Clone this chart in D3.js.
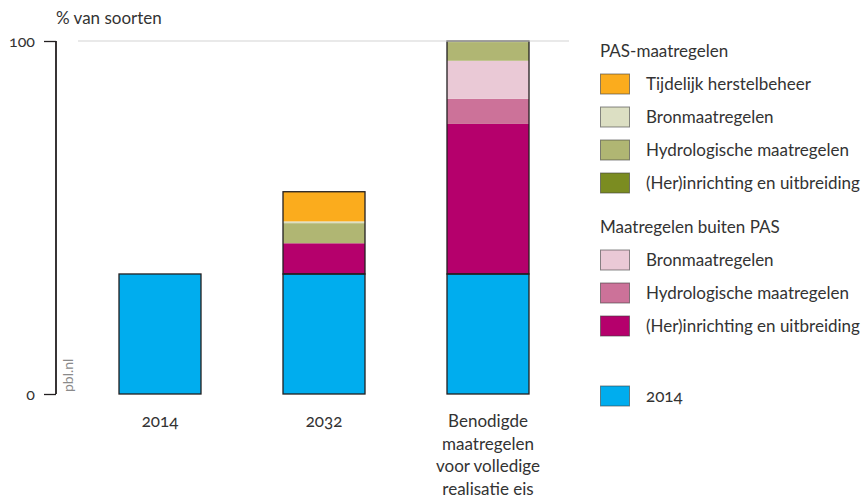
<!DOCTYPE html>
<html>
<head>
<meta charset="utf-8">
<script src="https://cdn.jsdelivr.net/npm/d3@7"></script>
<style>
  body { margin: 0; background: #fff; }
  svg text { font-family: Lato, "Open Sans", sans-serif; fill: #333; font-variant-numeric: oldstyle-nums; }
</style>
</head>
<body>
<svg width="867" height="499"></svg>
<script>
// categories on the x axis, each label split into lines
var categories = ['2014', '2032', 'benodigd'];
var catLabels = [['2014'], ['2032'], ['Benodigde', 'maatregelen', 'voor volledige', 'realisatie eis']];

// stack order, bottom to top
var seriesKeys = ['basis', 'buitenHer', 'buitenHydro', 'buitenBron', 'pasHer', 'pasHydro', 'pasBron', 'pasTijdelijk'];
var seriesColors = ['#00adee', '#b5006c', '#cc7299', '#eac9d6', '#7b8c21', '#b0b673', '#dcdfc3', '#fbac1d'];

// values per series, one per category (% van soorten)
var basis        = [34, 34, 34];
var buitenHer    = [0, 8.7, 42.5];
var buitenHydro  = [0, 0, 7.1];
var buitenBron   = [0, 0, 10.8];
var pasHer       = [0, 0, 0];
var pasHydro     = [0, 5.7, 5.3];
var pasBron      = [0, 0.5, 0.3];
var pasTijdelijk = [0, 8.4, 0];

var yTicks = [0, 100];

// legend
var legendGroups = [
  { title: 'PAS-maatregelen', items: [['Tijdelijk herstelbeheer', '#fbac1d'], ['Bronmaatregelen', '#dcdfc3'], ['Hydrologische maatregelen', '#b0b673'], ['(Her)inrichting en uitbreiding', '#7b8c21']] },
  { title: 'Maatregelen buiten PAS', items: [['Bronmaatregelen', '#eac9d6'], ['Hydrologische maatregelen', '#cc7299'], ['(Her)inrichting en uitbreiding', '#b5006c']] },
  { title: '', items: [['2014', '#00adee']] }
];

var seriesValues = [basis, buitenHer, buitenHydro, buitenBron, pasHer, pasHydro, pasBron, pasTijdelijk];
var table = categories.map(function (c, i) {
  var row = { cat: c };
  seriesKeys.forEach(function (k, j) { row[k] = seriesValues[j][i]; });
  return row;
});

var svg = d3.select('svg');
var fs = 17;

var x = d3.scaleBand()
  .domain(categories)
  .range([37, 611])
  .paddingInner(0.5)
  .paddingOuter(0.5);

var y = d3.scaleLinear()
  .domain([0, 100])
  .range([394, 41]);

var stacked = d3.stack().keys(seriesKeys)(table);
var color = d3.scaleOrdinal().domain(seriesKeys).range(seriesColors);

// segments
svg.append('g').selectAll('g')
  .data(stacked)
  .enter().append('g')
  .attr('fill', function (d) { return color(d.key); })
  .selectAll('rect')
  .data(function (d) { return d; })
  .enter().append('rect')
  .filter(function (d) { return d[1] - d[0] > 0; })
  .attr('x', function (d) { return x(d.data.cat); })
  .attr('width', x.bandwidth())
  .attr('y', function (d) { return y(d[1]); })
  .attr('height', function (d) { return y(d[0]) - y(d[1]); });

// outlines: base part and the stack of measures on top
var outline = svg.append('g').attr('fill', 'none').attr('stroke', '#231f20').attr('stroke-width', 1.3);
table.forEach(function (row) {
  var total = d3.sum(seriesKeys, function (k) { return row[k]; });
  outline.append('rect')
    .attr('x', x(row.cat)).attr('width', x.bandwidth())
    .attr('y', y(row.basis)).attr('height', y(0) - y(row.basis));
  if (total > row.basis) {
    outline.append('rect')
      .attr('x', x(row.cat)).attr('width', x.bandwidth())
      .attr('y', y(total)).attr('height', y(row.basis) - y(total));
  }
});

// grid line at 100
svg.append('line')
  .attr('x1', 78).attr('x2', 569)
  .attr('y1', y(100)).attr('y2', y(100))
  .attr('stroke', '#d4d4d4').attr('stroke-width', 1.2);

// y axis
var yAxis = svg.append('g').attr('transform', 'translate(56,0)')
  .call(d3.axisLeft(y).tickValues(yTicks).tickSize(12).tickPadding(9));
yAxis.select('.domain').attr('stroke', '#231f20').attr('stroke-width', 1.8).attr('d', 'M0,' + y(100) + 'V' + y(0));
yAxis.selectAll('.tick line').attr('stroke', '#231f20').attr('stroke-width', 1.3);
yAxis.selectAll('.tick text')
  .attr('font-size', 16)
  .style('font-family', 'Lato, sans-serif')
  .attr('fill', '#333');

svg.append('text')
  .attr('x', 56).attr('y', 24)
  .attr('font-size', fs)
  .text('% van soorten');

svg.append('text')
  .attr('transform', 'translate(73,392) rotate(-90)')
  .attr('font-size', 14)
  .style('fill', '#8a8a8a')
  .text('pbl.nl');

// x labels
var xl = svg.append('g');
categories.forEach(function (c, i) {
  var t = xl.append('text')
    .attr('x', x(c) + x.bandwidth() / 2)
    .attr('y', 427)
    .attr('text-anchor', 'middle')
    .attr('font-size', fs);
  catLabels[i].forEach(function (line, j) {
    t.append('tspan')
      .attr('x', x(c) + x.bandwidth() / 2)
      .attr('dy', j === 0 ? 0 : 22.5)
      .text(line);
  });
});

// legend
var lg = svg.append('g').attr('transform', 'translate(600,0)');
var rowY = [[51, 84, 117, 150, 183], [227, 260, 293, 326], [null, 396]];
legendGroups.forEach(function (grp, gi) {
  if (grp.title) {
    lg.append('text').attr('x', 0).attr('y', rowY[gi][0] + 6)
      .attr('font-size', fs).text(grp.title);
  }
  grp.items.forEach(function (it, ii) {
    var cy = rowY[gi][ii + 1];
    lg.append('rect')
      .attr('x', 0.5).attr('y', cy - 10)
      .attr('width', 29).attr('height', 20)
      .attr('fill', it[1])
      .attr('stroke', 'rgba(60,60,60,0.6)').attr('stroke-width', 1);
    lg.append('text')
      .attr('x', 46).attr('y', cy + 6)
      .attr('font-size', fs).text(it[0]);
  });
});
</script>
</body>
</html>
